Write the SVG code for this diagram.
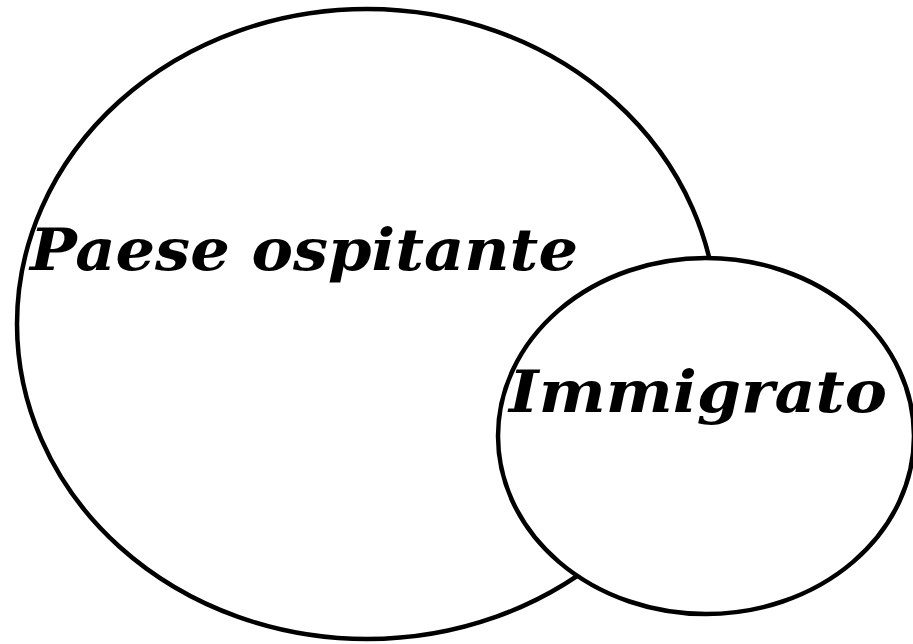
<svg xmlns="http://www.w3.org/2000/svg" width="913" height="644" viewBox="0 0 913 644">
<style>
.shape{fill:#fff;stroke:#000;stroke-width:4.5}
.lbl{font-family:"DejaVu Serif","Liberation Serif",serif;font-weight:bold;font-style:italic;font-size:58px;fill:#000}
</style>
<rect width="913" height="644" fill="#fff"/>
<g id="paese">
<ellipse class="shape" cx="367" cy="324" rx="350" ry="315"/>
<text class="lbl" x="30" y="270" textLength="548" lengthAdjust="spacingAndGlyphs">Paese ospitante</text>
</g>
<g id="immigrato">
<ellipse class="shape" cx="706" cy="436" rx="208" ry="178"/>
<text class="lbl" x="509" y="412" textLength="378" lengthAdjust="spacingAndGlyphs">Immigrato</text>
</g>
<g id="connectors"/>
</svg>
